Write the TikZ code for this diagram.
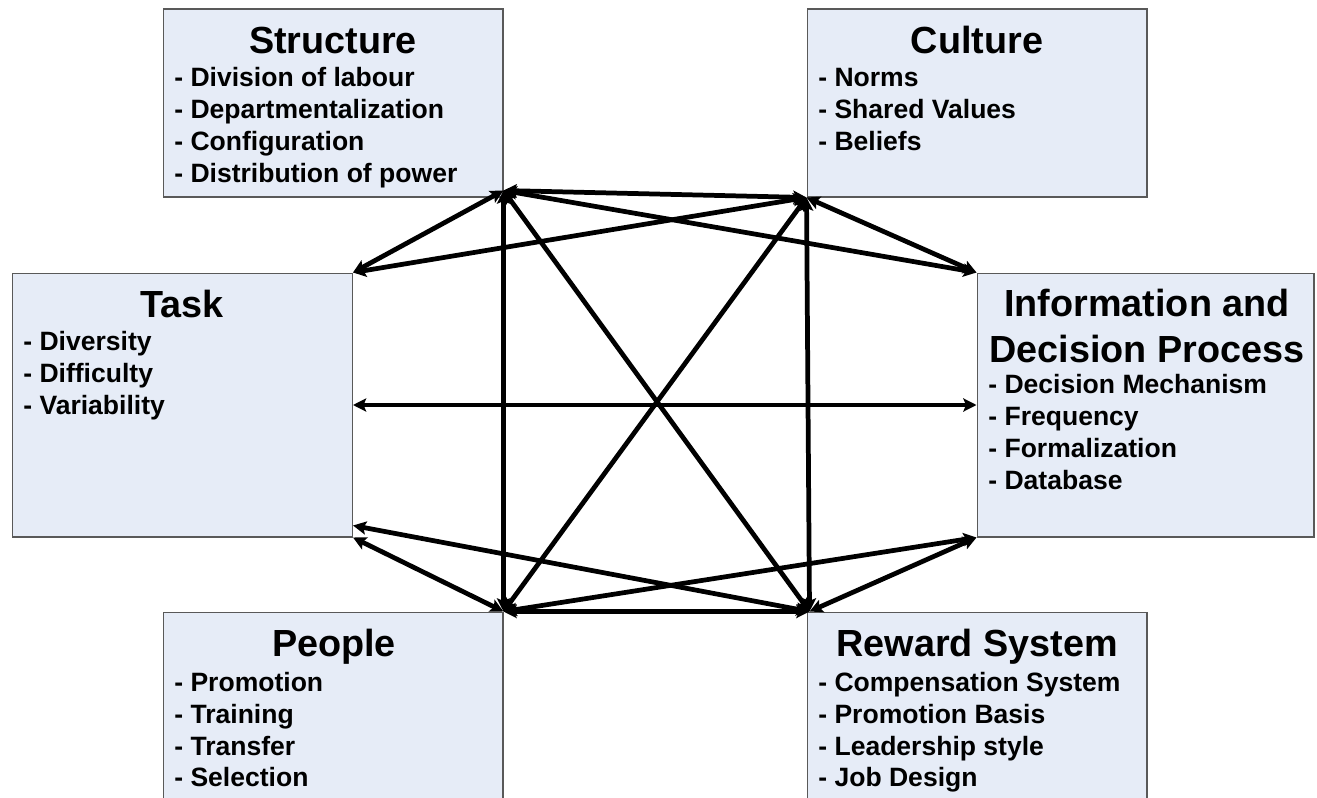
\documentclass[tikz,border=0pt]{standalone}
\usepackage{fontspec}
\setmainfont{Liberation Sans}
\usetikzlibrary{arrows.meta}

\definecolor{boxfill}{RGB}{230,236,247}

\begin{document}
\begin{tikzpicture}[x=0.02cm,y=-0.02cm,
  box/.style={draw=black!65,line width=0.6pt,fill=boxfill,inner sep=0pt,minimum width=6.8cm},
  title/.style={font=\fontsize{21.5}{25}\selectfont\bfseries,inner sep=0pt,anchor=base},
  item/.style={font=\fontsize{15.1}{18}\selectfont\bfseries,inner sep=0pt,anchor=base west},
  tip/.tip={Stealth[length=7.5pt,width=7.5pt,inset=1.5pt]},
  link/.style={tip-tip,line width=2.7pt}]
\useasboundingbox (0,0) rectangle (1317,797);
\clip (0,0) rectangle (1317,797);

% the six boxes
\node[box,minimum height=3.76cm] (str) at (333,103) {};
\node[box,minimum height=3.76cm] (cul) at (977,103) {};
\node[box,minimum height=5.28cm] (tsk) at (182.5,405) {};
\node[box,minimum height=5.28cm,minimum width=6.74cm] (inf) at (1145.5,405) {};
\node[box,minimum height=4cm] (ppl) at (333,712) {};
\node[box,minimum height=4cm] (rew) at (977,712) {};

% titles
\node[title] (strT) at (333,54) {Structure};
\node[title] (culT) at (977,54) {Culture};
\node[title] (tskT) at (182,317) {Task};
\node[title] (infT1) at (1147,316) {Information and};
\node[title] (infT2) at (1147,362) {Decision Process};
\node[title] (pplT) at (334,656) {People};
\node[title] (rewT) at (977,656) {Reward System};

% item lists
\foreach \t [count=\i] in {Division of labour, Departmentalization, Configuration, Distribution of power}
  \node[item] (str-\i) at (174,{55+32*\i}) {- \t};
\foreach \t [count=\i] in {Norms, Shared Values, Beliefs}
  \node[item] (cul-\i) at (818,{55+32*\i}) {- \t};
\foreach \t [count=\i] in {Diversity, Difficulty, Variability}
  \node[item] (tsk-\i) at (23,{318+32*\i}) {- \t};
\foreach \t [count=\i] in {Decision Mechanism, Frequency, Formalization, Database}
  \node[item] (inf-\i) at (988,{361+32*\i}) {- \t};
\foreach \t [count=\i] in {Promotion, Training, Transfer, Selection}
  \node[item] (ppl-\i) at (174,{660+31.7*\i}) {- \t};
\foreach \t [count=\i] in {Compensation System, Promotion Basis, Leadership style, Job Design}
  \node[item] (rew-\i) at (818,{660+31.7*\i}) {- \t};

% corner points the links meet at
\coordinate (strC) at ([yshift=0.14cm]str.south east);
\coordinate (rewC) at ([xshift=0.06cm]rew.north west);
\coordinate (tskB) at ([yshift=0.24cm]tsk.south east);

% links
\draw[link] (strC) -- (cul.south west);
\draw[link] (strC) -- (tsk.north east);
\draw[link] (strC) -- (inf.north west);
\draw[link] (strC) -- (ppl.north east);
\draw[link] (strC) -- (rewC);
\draw[link] (cul.south west) -- (tsk.north east);
\draw[link] (cul.south west) -- (inf.north west);
\draw[link] (cul.south west) -- (ppl.north east);
\draw[link] (cul.south west) -- (rewC);
\draw[link] (tsk.east) -- (inf.west);
\draw[link] (ppl.north east) -- (tsk.south east);
\draw[link] (rewC) -- (tskB);
\draw[link] (ppl.north east) -- (inf.south west);
\draw[link] (rewC) -- (inf.south west);
\draw[link] (ppl.north east) -- (rewC);
\end{tikzpicture}
\end{document}
